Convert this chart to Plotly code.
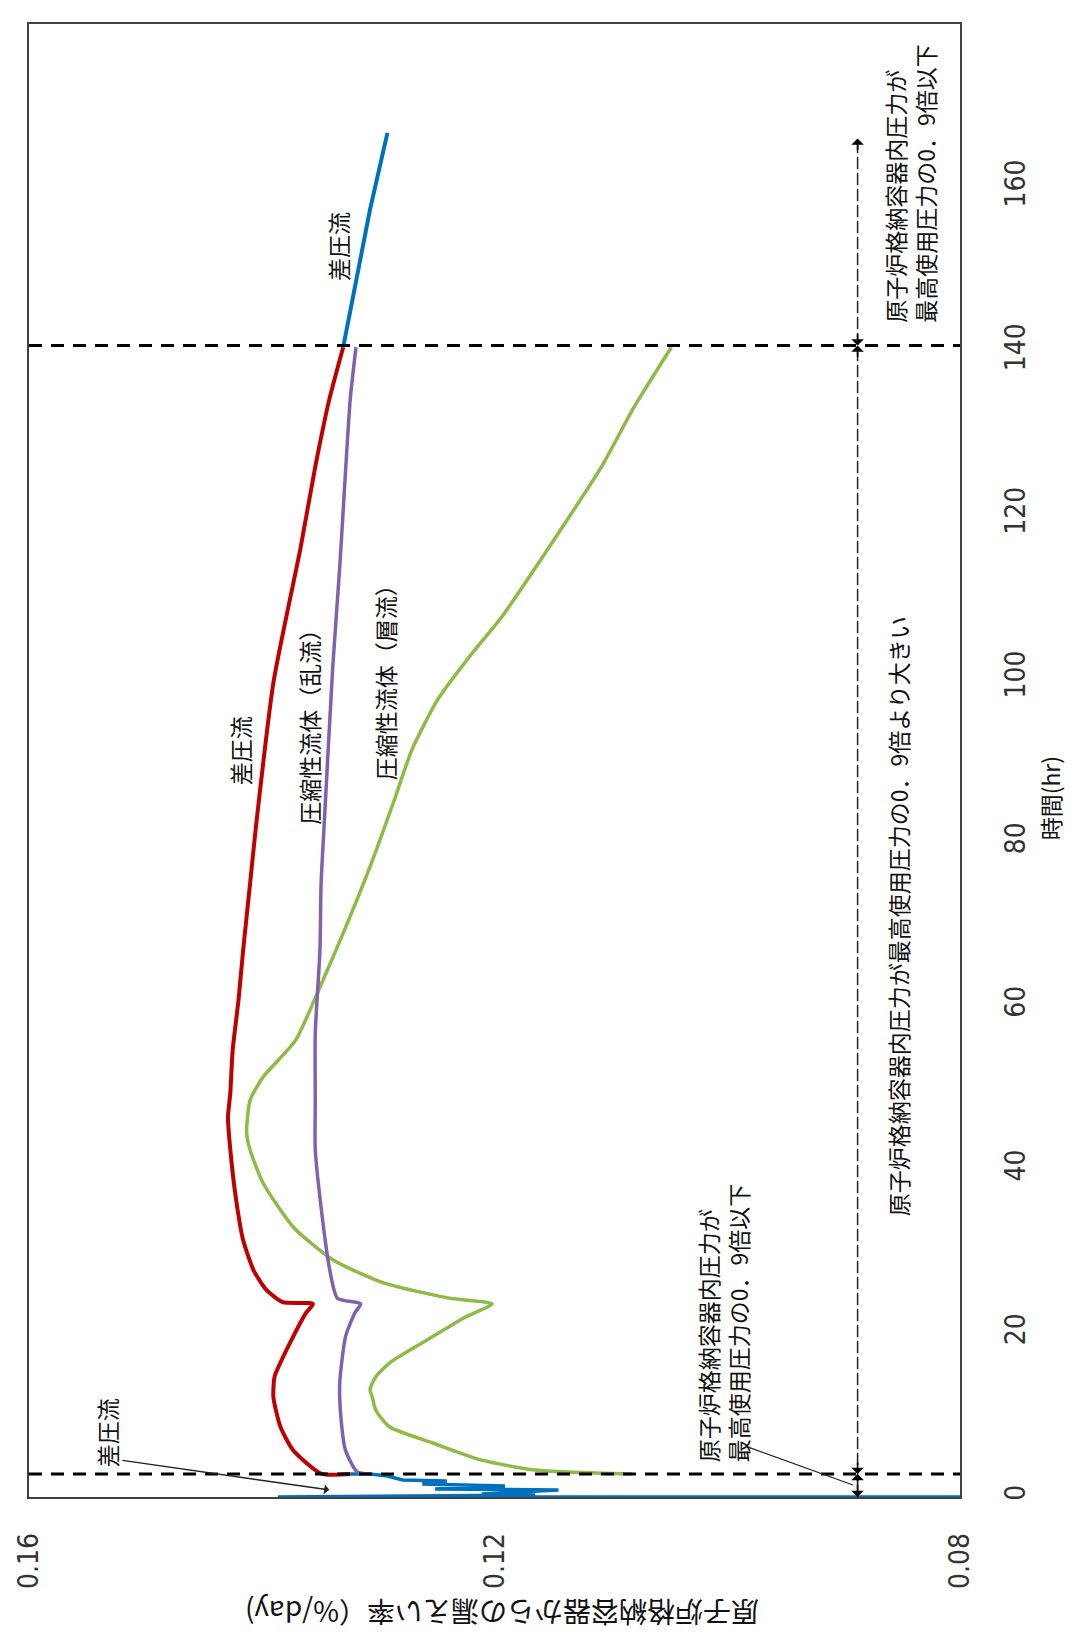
import plotly.graph_objects as go

# Time axis (hr) and leak rate axis (%/day) settings
time_ticks = [0, 20, 40, 60, 80, 100, 120, 140, 160, 180]
rate_ticks = [0.16, 0.12, 0.08]
rate_tick_text = ["0.16", "0.12", "0.08"]

# Boundary times (hr): pressure falls to 0.9x max working pressure
t_switch_1 = 2.8
t_switch_2 = 140.7
t_arrow_top = 166.0
r_arrow = 0.0888

# 差圧流 (initial period, oscillating)
dp_early_t = [0, 0, 0.24, 0.37, 0.86, 0.98, 1.34, 1.59, 1.96, 2.08, 2.57, 2.8, 2.8]
dp_early_r = [0.0800, 0.1386, 0.1165, 0.1211, 0.1145, 0.1251, 0.1191, 0.1262,
              0.1241, 0.1279, 0.1292, 0.1307, 0.1324]

# 差圧流 (red)
dp_t = [2.8, 2.85, 5.7, 8.6, 12.2, 14.7, 16.4, 19.6, 22.5, 23.6, 23.8, 25.3, 27.7,
        31.4, 36.3, 42.4, 46.4, 49.4, 54.6, 60.7, 66.8, 75.0, 81.9, 99.5, 107.5,
        115.7, 125.9, 134.1, 140.5]
dp_r = [0.1324, 0.1349, 0.1373, 0.1384, 0.1390, 0.1389, 0.1384, 0.1373, 0.1362,
        0.1356, 0.1382, 0.1396, 0.1407, 0.1416, 0.1422, 0.1427, 0.1429, 0.1427,
        0.1425, 0.1420, 0.1416, 0.1410, 0.1405, 0.1390, 0.1379, 0.1367, 0.1354,
        0.1342, 0.1330]

# 圧縮性流体（乱流） (purple)
turb_t = [2.8, 3.05, 5.7, 9.8, 13.9, 19.6, 22.5, 23.6, 24.3, 28.1, 34.2, 42.4,
          48.5, 56.7, 66.8, 75.0, 83.1, 101.4, 113.6, 134.1, 140.5]
turb_r = [0.1307, 0.1318, 0.1328, 0.1332, 0.1333, 0.1328, 0.1320, 0.1315, 0.1335,
          0.1342, 0.1348, 0.1354, 0.1354, 0.1354, 0.1350, 0.1349, 0.1346, 0.1339,
          0.1333, 0.1324, 0.1319]

# 圧縮性流体（層流） (green)
lam_t = [2.8, 3.3, 4.5, 6.6, 8.55, 10.6, 12.2, 13.1, 14.7, 16.4, 19.6, 22.0, 23.6,
         24.3, 26.2, 29.0, 33.0, 38.4, 42.4, 44.5, 48.5, 51.3, 55.8, 62.3, 68.9,
         77.0, 85.2, 91.3, 97.4, 102.6, 107.5, 117.8, 125.9, 133.2, 140.5]
lam_r = [0.1082, 0.1165, 0.1211, 0.1253, 0.1290, 0.1302, 0.1305, 0.1307, 0.1302,
         0.1290, 0.1253, 0.1225, 0.1202, 0.1239, 0.1296, 0.1339, 0.1373, 0.1399,
         0.1410, 0.1413, 0.1410, 0.1399, 0.1371, 0.1350, 0.1330, 0.1307, 0.1286,
         0.1271, 0.1249, 0.1222, 0.1194, 0.1145, 0.1108, 0.1080, 0.1048]

# 差圧流 (after the second boundary, blue)
dp_late_t = [140.5, 147.9, 157.3, 166.7]
dp_late_r = [0.1330, 0.1320, 0.1307, 0.1292]

BLUE = "#0070C0"
RED = "#C00000"
PURPLE = "#7F62AE"
GREEN = "#8DBB45"
CJK = "Noto Sans CJK JP"
NARROW = "Liberation Sans Narrow, DejaVu Sans Condensed, Arial Narrow, sans-serif"

fig = go.Figure()
fig.add_trace(go.Scatter(x=dp_early_r, y=dp_early_t, mode="lines",
                         line=dict(color=BLUE, width=3.5)))
fig.add_trace(go.Scatter(x=lam_r, y=lam_t, mode="lines",
                         line=dict(color=GREEN, width=3.5, shape="spline", smoothing=0.6)))
fig.add_trace(go.Scatter(x=turb_r, y=turb_t, mode="lines",
                         line=dict(color=PURPLE, width=3.5, shape="spline", smoothing=0.6)))
fig.add_trace(go.Scatter(x=dp_r, y=dp_t, mode="lines",
                         line=dict(color=RED, width=4, shape="spline", smoothing=0.6)))
fig.add_trace(go.Scatter(x=dp_late_r, y=dp_late_t, mode="lines",
                         line=dict(color=BLUE, width=4)))

# Boundary lines (thick dashed, across the plot)
for tb in (t_switch_1, t_switch_2):
    fig.add_shape(type="line", xref="x", yref="y", x0=0.16, x1=0.08, y0=tb, y1=tb,
                  line=dict(color="black", width=3, dash="13px,9px"), layer="above")

# Thin dashed range line with arrowheads
fig.add_shape(type="line", xref="x", yref="y", x0=r_arrow, x1=r_arrow, y0=0, y1=t_arrow_top,
              line=dict(color="#222222", width=1.5, dash="12px,4px"), layer="above")

annotations = []
# arrowheads: (time, direction) where +1 points up (larger time), -1 points down
heads = [(0, -1), (t_switch_1, 1), (t_switch_1, -1), (t_switch_2, 1), (t_switch_2, -1), (t_arrow_top, 1)]
for tt, d in heads:
    annotations.append(dict(x=r_arrow, y=tt, xref="x", yref="y", text="", showarrow=True,
                            ax=0, ay=13 * d, arrowhead=1, arrowsize=1.3, arrowwidth=1.6,
                            arrowcolor="black", standoff=0))

# Pointer from the lower-left label to the initial 差圧流
annotations.append(dict(x=0.1342, y=0.86, xref="x", yref="y", ax=0.1521, ay=4.5,
                        axref="x", ayref="y", text="", showarrow=True, arrowhead=1,
                        arrowsize=1.2, arrowwidth=1.4, arrowcolor="#222222", standoff=0))
# Plain pointer line from the lower-right note to the boundary arrow
fig.add_shape(type="line", xref="x", yref="y", x0=0.0982, y0=6.1, x1=0.0892, y1=1.47,
              line=dict(color="#222222", width=1.2), layer="above")


def label(text, r, t, size=23, align="center"):
    annotations.append(dict(x=r, y=t, xref="x", yref="y", text=text, showarrow=False,
                            textangle=-90, align=align, xanchor="center", yanchor="middle",
                            font=dict(family=CJK, size=size, color="#111111")))


label("差圧流", 0.1533, 7.9)
label("差圧流", 0.1419, 91.2)
label("圧縮性流体（乱流）", 0.1359, 94.8)
label("圧縮性流体（層流）", 0.1294, 100.2)
label("差圧流", 0.1335, 152.8)
label("原子炉格納容器内圧力が<br>最高使用圧力の0．9倍以下", 0.1004, 21.3, align="left")
label("原子炉格納容器内圧力が最高使用圧力の0．9倍より大きい", 0.0853, 71.0)
label("原子炉格納容器内圧力が<br>最高使用圧力の0．9倍以下", 0.0843, 160.6, align="left")

# Axis titles
annotations.append(dict(x=0.508, y=-0.0788, xref="paper", yref="paper",
                        text="原子炉格納容器からの漏えい率（%/day)", showarrow=False,
                        textangle=180, xanchor="center", yanchor="middle",
                        font=dict(family=CJK, size=28, color="#111111")))
annotations.append(dict(x=1.097, y=0.4745, xref="paper", yref="paper",
                        text="時間(hr)", showarrow=False, textangle=-90,
                        xanchor="center", yanchor="middle",
                        font=dict(family=CJK, size=23, color="#111111")))

fig.update_layout(
    width=1073, height=1642,
    margin=dict(l=25, r=113, t=24, b=145),
    paper_bgcolor="white", plot_bgcolor="white",
    showlegend=False,
    annotations=annotations,
)
fig.update_xaxes(range=[0.16, 0.08], tickvals=rate_ticks, ticktext=rate_tick_text,
                 tickangle=-90, showgrid=False, zeroline=False, showline=True, mirror=True,
                 linecolor="#404040", linewidth=1.5, ticks="", ticklabelstandoff=23,
                 tickfont=dict(family=NARROW, size=28, color="#333333"))
fig.update_yaxes(range=[0, 180], tickvals=time_ticks, side="right", tickangle=-90,
                 showgrid=False, zeroline=False, showline=True, mirror=True,
                 linecolor="#404040", linewidth=1.5, ticks="", ticklabelstandoff=30,
                 tickfont=dict(family=NARROW, size=28, color="#333333"))

fig.write_html("out.html")
